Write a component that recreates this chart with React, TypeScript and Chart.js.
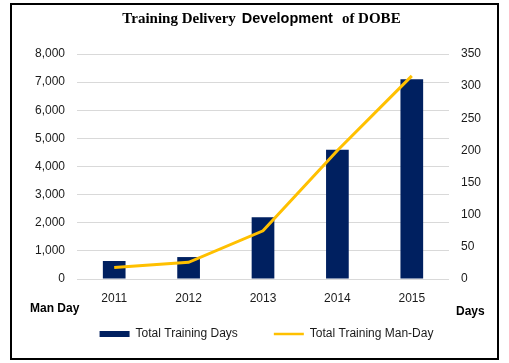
import React, { useEffect, useRef } from "react";
import { Chart, registerables } from "chart.js";

Chart.register(...registerables);

const categories = ["2011", "2012", "2013", "2014", "2015"];
const trainingDays = [640, 780, 2200, 4600, 7100];
const trainingManDays = [18, 26, 75, 200, 316];
const barLabel = "Total Training Days";
const lineLabel = "Total Training Man-Day";
const leftAxisName = "Man Day";
const rightAxisName = "Days";
const titleParts = ["Training Delivery", "Development", "of DOBE"];

const NAVY = "#002060";
const GOLD = "#FFC000";
const TEXT = "#1a1a1a";
const GRID = "#d9d9d9";

const legendLift = {
  id: "legendLift",
  afterLayout(chart: any) {
    const lg = chart.legend;
    if (lg) {
      lg.top -= 13;
      lg.bottom -= 13;
    }
  },
};

const extraText = {
  id: "extraText",
  afterDraw(chart: any) {
    const ctx = chart.ctx;
    ctx.save();
    ctx.fillStyle = "#000";
    ctx.textBaseline = "alphabetic";
    ctx.textAlign = "left";
    const fonts = [
      "bold 15px 'Liberation Serif', 'Times New Roman', serif",
      "bold 14.5px 'Liberation Sans', Arial, sans-serif",
      "bold 15px 'Liberation Serif', 'Times New Roman', serif",
    ];
    const gaps = [6, 9];
    const widths = titleParts.map((t, i) => {
      ctx.font = fonts[i];
      return ctx.measureText(t).width;
    });
    const total = widths[0] + gaps[0] + widths[1] + gaps[1] + widths[2];
    let x = 261.5 - total / 2;
    titleParts.forEach((t, i) => {
      ctx.font = fonts[i];
      ctx.fillText(t, x, 23);
      x += widths[i] + (gaps[i] || 0);
    });
    const area = chart.chartArea;
    ctx.font = "bold 12px 'Liberation Sans', Arial, sans-serif";
    ctx.fillStyle = "#000";
    ctx.fillText(leftAxisName, 30, area.bottom + 33);
    ctx.fillText(rightAxisName, 456, area.bottom + 36);
    ctx.restore();
  },
};

export default function App() {
  const canvasRef = useRef<HTMLCanvasElement | null>(null);

  useEffect(() => {
    const canvas = canvasRef.current;
    if (!canvas) return;
    const chart = new Chart(canvas, {
      type: "bar",
      data: {
        labels: categories,
        datasets: [
          {
            type: "line",
            label: lineLabel,
            data: trainingManDays,
            yAxisID: "yRight",
            borderColor: GOLD,
            backgroundColor: GOLD,
            borderWidth: 3,
            pointRadius: 0,
            tension: 0,
            order: 0,
          } as any,
          {
            type: "bar",
            label: barLabel,
            data: trainingDays,
            yAxisID: "yLeft",
            backgroundColor: NAVY,
            borderWidth: 0,
            categoryPercentage: 1,
            barPercentage: 0.305,
            order: 1,
          } as any,
        ],
      },
      options: {
        responsive: false,
        animation: false,
        layout: { padding: { left: 24, right: 0, top: 54, bottom: 0 } },
        plugins: {
          title: { display: false },
          tooltip: { enabled: false },
          legend: {
            position: "bottom",
            reverse: true,
            labels: {
              color: TEXT,
              font: { family: "'Liberation Sans', Arial, sans-serif", size: 12 },
              usePointStyle: true,
              pointStyleWidth: 30,
              boxHeight: 6,
              padding: 36,
              generateLabels: (c: any) => {
                const items = (Chart.defaults.plugins.legend.labels as any).generateLabels(c);
                items.forEach((it: any) => {
                  if (it.text === barLabel) {
                    it.pointStyle = "rect";
                    it.lineWidth = 0;
                    it.fillStyle = NAVY;
                  } else {
                    it.pointStyle = "line";
                    it.lineWidth = 2.5;
                    it.strokeStyle = GOLD;
                  }
                });
                return items;
              },
            },
          },
        },
        scales: {
          x: {
            offset: true,
            grid: { display: false, drawTicks: false },
            border: { display: false },
            ticks: {
              color: TEXT,
              padding: 12,
              font: { family: "'Liberation Sans', Arial, sans-serif", size: 12 },
            },
            afterFit: (s: any) => {
              s.height = 26;
            },
          },
          yLeft: {
            type: "linear",
            position: "left",
            min: 0,
            max: 8000,
            grid: { color: GRID, lineWidth: 1, drawTicks: false },
            border: { display: false },
            ticks: {
              stepSize: 1000,
              color: TEXT,
              padding: 12,
              font: { family: "'Liberation Sans', Arial, sans-serif", size: 12 },
              callback: (v: any) => Number(v).toLocaleString("en-US"),
            },
            afterFit: (s: any) => {
              s.width = 53;
            },
          },
          yRight: {
            type: "linear",
            position: "right",
            min: 0,
            max: 350,
            grid: { drawOnChartArea: false, drawTicks: false },
            border: { display: false },
            ticks: {
              stepSize: 50,
              color: TEXT,
              padding: 12,
              font: { family: "'Liberation Sans', Arial, sans-serif", size: 12 },
            },
            afterFit: (s: any) => {
              s.width = 60;
            },
          },
        },
      } as any,
      plugins: [legendLift, extraText],
    });
    return () => chart.destroy();
  }, []);

  return (
    <div
      style={{
        position: "fixed",
        left: 0,
        top: 0,
        width: 509,
        height: 363,
        background: "#fff",
      }}
    >
      <canvas
        ref={canvasRef}
        width={509}
        height={363}
        style={{ position: "absolute", left: 0, top: 0, width: 509, height: 363, display: "block" }}
      />
      <div
        style={{
          position: "absolute",
          left: 10,
          top: 3,
          width: 489,
          height: 357,
          border: "2px solid #000",
          boxSizing: "border-box",
          pointerEvents: "none",
        }}
      />
    </div>
  );
}
